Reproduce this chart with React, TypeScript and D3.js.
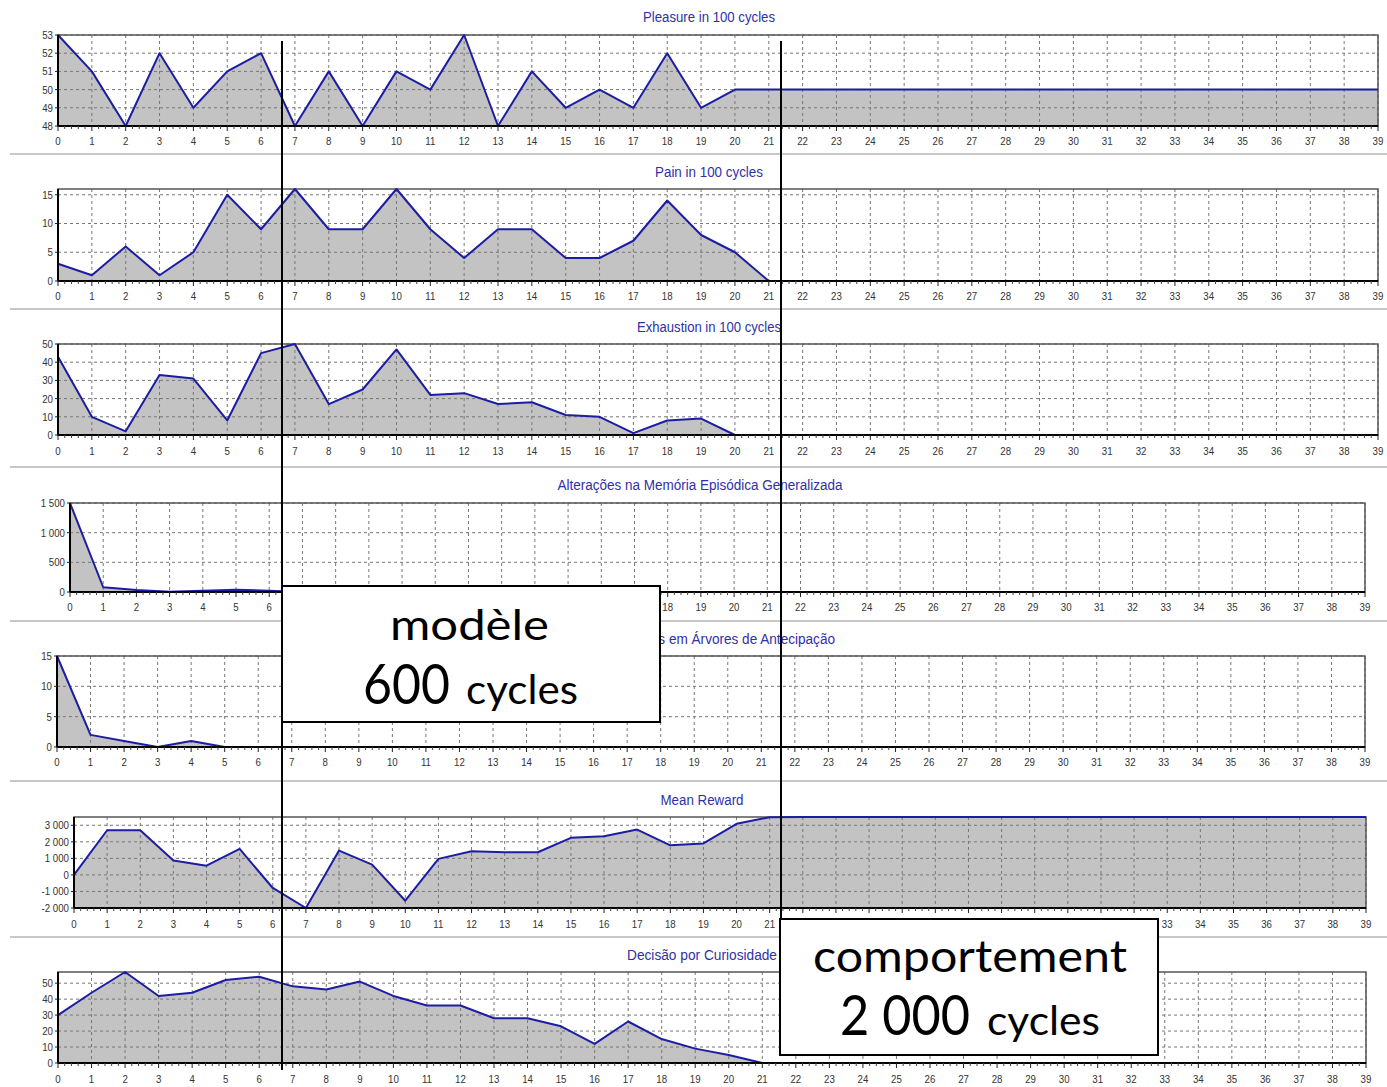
import React from "react";
import * as d3 from "d3";

const xLabels = d3.range(0, 40);

const pleasure = [53,51,48,52,49,51,52,48,51,48,51,50,53,48,51,49,50,49,52,49,50,50,50,50,50,50,50,50,50,50,50,50,50,50,50,50,50,50,50,50];
const pain = [3,1,6,1,5,15,9,16,9,9,16,9,4,9,9,4,4,7,14,8,5,0,0,0,0,0,0,0,0,0,0,0,0,0,0,0,0,0,0,0];
const exhaustion = [43,10,2,33,31,8,45,50,17,25,47,22,23,17,18,11,10,1,8,9,0,0,0,0,0,0,0,0,0,0,0,0,0,0,0,0,0,0,0,0];
const memoryChanges = [1500,80,35,5,20,40,20,0,0,0,0,0,0,0,0,0,0,0,0,0,0,0,0,0,0,0,0,0,0,0,0,0,0,0,0,0,0,0,0,0];
const anticipation = [15,2,1,0,1,0,0,0,0,0,0,0,0,0,0,0,0,0,0,0,0,0,0,0,0,0,0,0,0,0,0,0,0,0,0,0,0,0,0,0];
const meanReward = [0,2700,2700,870,560,1570,-790,-2000,1470,620,-1560,970,1430,1370,1370,2240,2340,2740,1790,1900,3090,3490,3500,3500,3500,3500,3500,3500,3500,3500,3500,3500,3500,3500,3500,3500,3500,3500,3500,3500];
const curiosity = [30,44,57,42,44,52,54,48,46,51,42,36,36,28,28,23,12,26,15,9,5,0,0,0,0,0,0,0,0,0,0,0,0,0,0,0,0,0,0,0];

const titles = [
  "Pleasure in 100 cycles",
  "Pain in 100 cycles",
  "Exhaustion in 100 cycles",
  "Alterações na Memória Episódica Generalizada",
  "Alterações em Árvores de Antecipação",
  "Mean Reward",
  "Decisão por Curiosidade",
];

const yTicksPleasure = [48, 49, 50, 51, 52, 53];
const yTicksPain = [0, 5, 10, 15];
const yTicksExhaustion = [0, 10, 20, 30, 40, 50];
const yTicksMemory = [0, 500, 1000, 1500];
const yTicksAnticipation = [0, 5, 10, 15];
const yTicksReward = [-2000, -1000, 0, 1000, 2000, 3000];
const yTicksCuriosity = [0, 10, 20, 30, 40, 50];

const noteModel = ["modèle", "600", "cycles"];
const noteBehaviour = ["comportement", "2 000", "cycles"];

const locale = d3.formatLocale({ decimal: ".", thousands: " ", grouping: [3], currency: ["", ""], minus: "-" });
const fmt = locale.format(",");

const series = [pleasure, pain, exhaustion, memoryChanges, anticipation, meanReward, curiosity];
const yTicks = [yTicksPleasure, yTicksPain, yTicksExhaustion, yTicksMemory, yTicksAnticipation, yTicksReward, yTicksCuriosity];

const layout = [
  { l: 58, r: 1378, t: 35, b: 126, tx: 709, ty: 22, tw: 132, anchor: "middle", ly: 145, sep: 154, hide: null },
  { l: 58, r: 1378, t: 189, b: 281, tx: 709, ty: 177, tw: 108, anchor: "middle", ly: 300, sep: 309, hide: null },
  { l: 58, r: 1378, t: 344, b: 435, tx: 709, ty: 332, tw: 144, anchor: "middle", ly: 455, sep: 467, hide: null },
  { l: 70, r: 1365, t: 503, b: 592, tx: 700, ty: 490, tw: 285, anchor: "middle", ly: 611, sep: 621, hide: [282, 660] },
  { l: 57, r: 1365, t: 656, b: 747, tx: 835, ty: 644, tw: 234, anchor: "end", ly: 766, sep: 781, hide: null },
  { l: 74, r: 1366, t: 817, b: 908, tx: 702, ty: 805, tw: 83, anchor: "middle", ly: 928, sep: 937, hide: [780, 1158] },
  { l: 58, r: 1366, t: 972, b: 1063, tx: 702, ty: 960, tw: 150, anchor: "middle", ly: 1083, sep: null, hide: null },
];

const FONT = "'Liberation Sans', Arial, sans-serif";
const LINE = "#1c1ca4";
const FILL = "#c3c3c3";

function Panel({ idx }: { idx: number }) {
  const L = layout[idx];
  const data = series[idx];
  const ext = d3.extent(data) as [number, number];
  const x = d3.scaleLinear().domain([0, 39]).range([L.l, L.r]);
  const y = d3.scaleLinear().domain(ext).range([L.b, L.t]);
  const pts = data.map((v, i) => [i, v] as [number, number]);
  const area = d3.area<[number, number]>().x((d) => x(d[0])).y0(L.b).y1((d) => y(d[1]))(pts) || "";
  const line = d3.line<[number, number]>().x((d) => x(d[0])).y((d) => y(d[1]))(pts) || "";
  const minor: number[] = [];
  for (let i = 0; i < 39; i++) for (let k = 1; k < 5; k++) minor.push(i + k / 5);
  const shown = xLabels.filter((v) => !L.hide || x(v) < L.hide[0] - 4 || x(v) > L.hide[1] + 4);
  return (
    <g>
      <text x={L.tx} y={L.ty} textAnchor={L.anchor} fontFamily={FONT} fontSize={14} fill="#3030a8" textLength={L.tw} lengthAdjust="spacingAndGlyphs">{titles[idx]}</text>
      <rect x={L.l} y={L.t} width={L.r - L.l} height={L.b - L.t} fill="#fff" />
      <path d={area} fill={FILL} />
      {yTicks[idx].map((v) => (
        <line key={"gy" + v} x1={L.l} x2={L.r} y1={y(v)} y2={y(v)} stroke="#777" strokeWidth={1} strokeDasharray="3,3" />
      ))}
      {xLabels.map((v) => (
        <line key={"gx" + v} x1={x(v)} x2={x(v)} y1={L.t} y2={L.b} stroke="#777" strokeWidth={1} strokeDasharray="3,3" />
      ))}
      <rect x={L.l} y={L.t} width={L.r - L.l} height={L.b - L.t} fill="none" stroke="#555" strokeWidth={1.5} />
      <path d={line} fill="none" stroke={LINE} strokeWidth={2} strokeLinejoin="round" />
      <line x1={L.l} x2={L.r} y1={L.b} y2={L.b} stroke="#000" strokeWidth={2} />
      <line x1={L.l} x2={L.l} y1={L.t} y2={L.b} stroke="#000" strokeWidth={2} />
      {minor.map((v, i) => (
        <line key={"mn" + i} x1={x(v)} x2={x(v)} y1={L.b} y2={L.b + 3} stroke="#444" strokeWidth={1} />
      ))}
      {xLabels.map((v) => (
        <line key={"xt" + v} x1={x(v)} x2={x(v)} y1={L.b} y2={L.b + 5} stroke="#222" strokeWidth={1} />
      ))}
      {shown.map((v) => (
        <text key={"xl" + v} x={x(v)} y={L.ly} textAnchor="middle" fontFamily={FONT} fontSize={11} fill="#333" transform={`translate(${x(v)},0) scale(0.88,1) translate(${-x(v)},0)`}>{v}</text>
      ))}
      {yTicks[idx].map((v) => (
        <g key={"yl" + v}>
          <line x1={L.l - 3} x2={L.l} y1={y(v)} y2={y(v)} stroke="#222" strokeWidth={1} />
          <text x={L.l - 5} y={y(v) + 4} textAnchor="end" fontFamily={FONT} fontSize={11} fill="#333" transform={`translate(${L.l - 5},0) scale(0.88,1) translate(${-(L.l - 5)},0)`}>{fmt(v)}</text>
        </g>
      ))}
      {L.sep !== null && <line x1={10} x2={1387} y1={L.sep} y2={L.sep} stroke="#c8c8c8" strokeWidth={2} />}
    </g>
  );
}

const BOXFONT = "Lato, 'Open Sans', sans-serif";

export default function App() {
  return (
    <svg width={1387} height={1087} style={{ position: "absolute", left: 0, top: 0, background: "#fff" }}>
      <rect x={0} y={0} width={1387} height={1087} fill="#fff" />
      {series.map((_, i) => <Panel key={i} idx={i} />)}
      <line x1={282} x2={282} y1={41} y2={1070} stroke="#000" strokeWidth={2} />
      <line x1={781} x2={781} y1={41} y2={1055} stroke="#000" strokeWidth={2} />
      <rect x={282} y={586} width={378} height={136} fill="#fff" stroke="#000" strokeWidth={2} />
      <text x={390} y={640} fontFamily={BOXFONT} fontSize={42} fill="#000" textLength={159} lengthAdjust="spacingAndGlyphs">{noteModel[0]}</text>
      <text x={363} y={704} fontFamily={BOXFONT} fontSize={56} fill="#000" textLength={87} lengthAdjust="spacingAndGlyphs">{noteModel[1]}</text>
      <text x={466} y={704} fontFamily={BOXFONT} fontSize={40} fill="#000" textLength={112} lengthAdjust="spacingAndGlyphs">{noteModel[2]}</text>
      <rect x={780} y={919} width={378} height={136} fill="#fff" stroke="#000" strokeWidth={2} />
      <text x={813} y={972} fontFamily={BOXFONT} fontSize={44} fill="#000" textLength={314} lengthAdjust="spacingAndGlyphs">{noteBehaviour[0]}</text>
      <text x={840} y={1035} fontFamily={BOXFONT} fontSize={56} fill="#000" textLength={130} lengthAdjust="spacingAndGlyphs">{noteBehaviour[1]}</text>
      <text x={987} y={1035} fontFamily={BOXFONT} fontSize={40} fill="#000" textLength={113} lengthAdjust="spacingAndGlyphs">{noteBehaviour[2]}</text>
    </svg>
  );
}
